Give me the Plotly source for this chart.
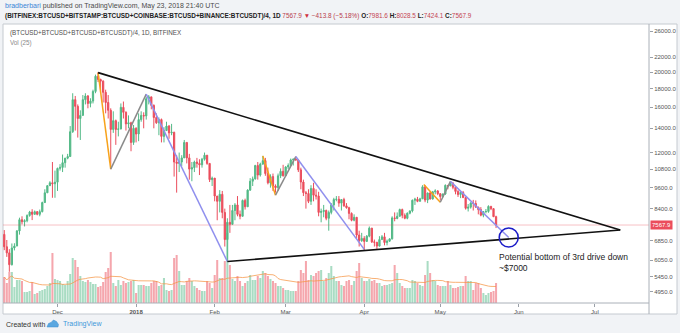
import math
import pandas as pd
import plotly.graph_objects as go

# ---- daily OHLC, (BTCUSD+BTCUSD+BTCUSD+BTCUSDT)/4, Nov 10 2017 .. May 23 2018 ----
dates = pd.date_range("2017-11-10", "2018-05-23", freq="D")

opens = [
    7130, 6590, 6340, 5880, 6540, 6620, 7290, 7830, 7730, 7780, 8040, 8220, 8100, 8240, 8100, 8240, 8730, 9290, 9720, 9900, 9840,
    9940, 10850, 10920, 11250, 11580, 11700, 13700, 16800, 16100, 14900, 15200, 16800, 17200, 16400, 16650, 17700, 19500, 19100, 18900, 17600, 16500, 15700, 13900, 14700, 13900, 13950, 16000, 15500, 14400, 14500, 12800,
    14000, 13500, 14800, 15200, 15150, 16900, 17100, 16200, 15000, 14500, 14800, 13300, 13800, 14200, 13600, 13650, 11300, 11200, 11300, 11600, 12800, 11600, 10800, 10900, 11300, 11200, 11100, 11500, 11800, 11200, 10100,
    10200, 9100, 8800, 9200, 8200, 6900, 7700, 7600, 8300, 8600, 8100, 8000, 8850, 8500, 9450, 10000, 10150, 11050, 10400, 11150, 11400, 10500, 9900, 10300, 9700, 9600, 10350, 10650,
    10350, 10950, 11050, 11450, 11500, 11450, 10750, 9950, 9300, 9250, 8800, 9550, 9150, 9100, 8200, 8250, 8300, 7900, 8200, 8600, 8900, 8920, 8700, 8900, 8550, 8450, 8150, 7800, 7950, 7100, 6850,
    6950, 6820, 7050, 7420, 6800, 6780, 6620, 6900, 7020, 6770, 6830, 6930, 7920, 7890, 8000, 8350, 8050, 7900, 8160, 8280, 8860, 8920, 8800, 8940, 9650, 8870, 9280, 8930, 9350, 9400,
    9240, 9070, 9220, 9740, 9700, 9860, 9620, 9370, 9190, 9310, 9010, 8420, 8480, 8700, 8680, 8480, 8350, 8060, 8240, 8250, 8520, 8400, 7981.6,
]
highs = [
    7330, 6880, 6490, 6730, 6740, 7330, 7930, 8000, 7850, 8100, 8280, 8370, 8300, 8270, 8350, 8780, 9500, 9750, 10000, 11300, 10700,
    10900, 11150, 11850, 11600, 11900, 14200, 17500, 17200, 16300, 15700, 17300, 17500, 17300, 16950, 17900, 19700, 20000, 19200, 19000, 17900, 17300, 15900, 15600, 14800, 14600, 16400, 16600, 15600, 15200, 14600, 14300,
    14100, 15400, 15600, 15500, 17100, 17300, 17100, 16300, 15400, 15000, 14900, 14100, 14600, 14300, 14400, 13700, 11800, 12000, 11800, 13000, 12800, 11900, 11300, 11400, 11600, 11500, 11600, 12000, 11800, 11200, 10300,
    10200, 9100, 9450, 9400, 8400, 7900, 8600, 8600, 8700, 9100, 8300, 8900, 8950, 9500, 10200, 10300, 11100, 11300, 11250, 11750, 11600, 10900, 10450, 10500, 9800, 10500, 10850, 11100,
    11000, 11200, 11550, 11550, 11700, 11450, 10900, 10100, 9400, 9500, 9750, 9900, 9500, 9350, 8400, 8600, 8350, 8300, 8700, 9000, 9100, 9100, 8900, 9000, 8700, 8500, 8200, 8100, 7950, 7300, 7200,
    7050, 7100, 7500, 7430, 6900, 6800, 7050, 7100, 7200, 6900, 6950, 8000, 8200, 8200, 8400, 8400, 8150, 8200, 8300, 8900, 9000, 9050, 9000, 9750, 9750, 9300, 9380, 9400, 9500, 9450,
    9250, 9250, 9800, 9750, 9990, 9950, 9650, 9450, 9350, 9400, 9020, 8650, 8750, 8880, 8850, 8500, 8480, 8260, 8380, 8580, 8550, 8420, 8028.5,
]
lows = [
    6450, 6180, 5620, 5850, 6440, 6620, 7120, 7600, 7500, 7700, 7980, 7810, 8090, 8050, 8000, 8200, 8720, 9290, 9700, 9000, 9000,
    9400, 10700, 10600, 10900, 11500, 11700, 13600, 13800, 13200, 13000, 15200, 16300, 15900, 16000, 16400, 17500, 18800, 17800, 16500, 15400, 14900, 10800, 13600, 12600, 13300, 13900, 14900, 13800, 14000, 12100, 12600,
    12800, 12900, 14600, 14000, 14800, 16300, 15800, 14000, 14400, 13400, 12800, 12800, 13800, 13100, 13400, 10300, 9300, 10600, 11000, 11600, 11200, 10100, 10000, 10600, 10900, 10400, 10900, 11400, 11100, 9950, 9700,
    8800, 7800, 8200, 7900, 6600, 6000, 7200, 7600, 7800, 8000, 7850, 8000, 8350, 8500, 9400, 9700, 10100, 10100, 10300, 11100, 10350, 9800, 9600, 9400, 9300, 9400, 10200, 10300,
    10350, 10800, 11000, 11050, 11400, 10600, 9500, 9100, 8400, 8700, 8600, 8800, 8900, 8000, 7700, 7950, 7800, 7300, 8100, 8300, 8800, 8500, 8300, 8500, 8400, 7850, 7750, 7750, 6950, 6600, 6800,
    6450, 6800, 7000, 6750, 6600, 6500, 6600, 6900, 6650, 6650, 6800, 6900, 7750, 7850, 8000, 7900, 7850, 7850, 8100, 8200, 8600, 8750, 8800, 8930, 8750, 8700, 8900, 8900, 9200, 9150,
    8850, 9020, 9170, 9500, 9700, 9500, 9200, 9050, 8980, 9000, 8350, 8250, 8400, 8300, 8450, 8100, 8000, 7950, 8150, 8180, 8320, 7960, 7424.1,
]
closes = [
    6590, 6340, 5880, 6540, 6620, 7290, 7830, 7730, 7780, 8040, 8220, 8100, 8240, 8100, 8240, 8730, 9290, 9720, 9900, 9840, 9940,
    10850, 10920, 11250, 11580, 11700, 13700, 16800, 16100, 14900, 15200, 16800, 17200, 16400, 16650, 17700, 19500, 19100, 18900, 17600, 16500, 15700, 13900, 14700, 13900, 13950, 16000, 15500, 14400, 14500, 12800, 14000,
    13500, 14800, 15200, 15150, 16900, 17100, 16200, 15000, 14500, 14800, 13300, 13800, 14200, 13600, 13650, 11300, 11200, 11300, 11600, 12800, 11600, 10800, 10900, 11300, 11200, 11100, 11500, 11800, 11200, 10100, 10200,
    9100, 8800, 9200, 8200, 6900, 7700, 7600, 8300, 8600, 8100, 8000, 8850, 8500, 9450, 10000, 10150, 11050, 10400, 11150, 11400, 10500, 9900, 10300, 9700, 9600, 10350, 10650, 10350,
    10950, 11050, 11450, 11500, 11450, 10750, 9950, 9300, 9250, 8800, 9550, 9150, 9100, 8200, 8250, 8300, 7900, 8200, 8600, 8900, 8920, 8700, 8900, 8550, 8450, 8150, 7800, 7950, 7100, 6850, 6950,
    6820, 7050, 7420, 6800, 6780, 6620, 6900, 7020, 6770, 6830, 6930, 7920, 7890, 8000, 8350, 8050, 7900, 8160, 8280, 8860, 8920, 8800, 8940, 9650, 8870, 9280, 8930, 9350, 9400, 9240,
    9070, 9220, 9740, 9700, 9860, 9620, 9370, 9190, 9310, 9010, 8420, 8480, 8700, 8680, 8480, 8350, 8060, 8240, 8250, 8520, 8400, 7981.7, 7567.9,
]
# daily volume (thousand coins)
volumes = [
    26, 20, 31, 31, 16, 23, 23, 22, 11, 11,
    12, 21, 9, 10, 12, 13, 14, 17, 20, 50,
    24, 23, 22, 19, 18, 22, 29, 45, 43, 36,
    27, 22, 21, 23, 21, 19, 19, 16, 17, 21,
    31, 35, 51, 20, 17, 23, 18, 22, 20, 21,
    22, 23, 10, 18, 18, 18, 17, 17, 20, 22,
    22, 17, 18, 25, 13, 12, 13, 45, 48, 32,
    18, 18, 22, 25, 22, 17, 15, 13, 12, 12,
    22, 20, 15, 28, 43, 25, 25, 42, 70, 38,
    24, 22, 27, 22, 17, 20, 22, 28, 23, 23,
    27, 25, 32, 30, 27, 24, 22, 20, 17, 17,
    15, 13, 13, 12, 12, 12, 22, 33, 30, 42,
    23, 28, 27, 30, 32, 33, 22, 25, 30, 37,
    27, 22, 22, 18, 17, 22, 23, 18, 22, 32,
    40, 25, 22, 22, 24, 22, 23, 20, 20, 17,
    18, 18, 19, 20, 38, 30, 20, 17, 15, 15,
    15, 23, 22, 20, 18, 17, 28, 42, 30, 23,
    22, 18, 17, 17, 17, 22, 18, 15, 15, 16,
    17, 17, 27, 22, 22, 13, 20, 20, 15, 10,
    8, 10, 11, 12, 20,
]

last_price = 7567.9

# trend lines: (date, price) pairs
triangle_top = [("2017-12-17", 19950), ("2018-07-11", 7330)]
triangle_bottom = [("2018-02-06", 6000), ("2018-07-11", 7330)]
drive_legs = {
    "orange": [[("2017-12-17", 19950), ("2017-12-22", 10800)],
               [("2018-02-20", 11750), ("2018-02-25", 9150)],
               [("2018-04-24 12:00", 9800), ("2018-05-01", 8750)]],
    "gray":   [[("2017-12-22", 10800), ("2018-01-05", 17400)],
               [("2018-02-25", 9150), ("2018-03-05", 11700)],
               [("2018-05-01", 8750), ("2018-05-05", 9990)]],
    "blue":   [[("2018-01-05", 17400), ("2018-02-06", 6000)],
               [("2018-03-05", 11700), ("2018-04-01", 6480)],
               [("2018-05-05", 9990), ("2018-05-28", 6990)]],
}
target = ("2018-05-28", 6990)

price_ticks = [26000, 22000, 20000, 18000, 16000, 14000, 12000, 10800, 9600, 8400, 6850, 6050, 5450, 4950]
month_ticks = ["2017-12-01", "2018-01-01", "2018-02-01", "2018-03-01", "2018-04-01",
               "2018-05-01", "2018-06-01", "2018-07-01"]
month_labels = ["Dec", "<b>2018</b>", "Feb", "Mar", "Apr", "May", "Jun", "Jul"]

# ---- page geometry (pixels) ----
W, H = 680, 333
ML, MR, MT, MB = 3, 31, 24, 30
PW, PH = W - ML - MR, H - MT - MB


def fx(px):
    return (px - ML) / PW


def fy(py):
    return (H - MB - py) / PH


UP, DOWN = "#53b987", "#eb4d5c"
FONT = "Liberation Sans, Arial, sans-serif"

fig = go.Figure()

# volume (behind the price series)
vol_colors = ["rgba(83,185,135,0.5)" if c >= o else "rgba(235,77,92,0.5)" for o, c in zip(opens, closes)]
fig.add_trace(go.Bar(x=dates, y=volumes, marker=dict(color=vol_colors, line=dict(width=0)),
                     yaxis="y", hoverinfo="skip"))
vol_ma = pd.Series(volumes, dtype=float).rolling(20, min_periods=1).mean()
fig.add_trace(go.Scatter(x=dates, y=vol_ma, mode="lines", yaxis="y",
                         line=dict(color="rgba(245,150,70,0.75)", width=1), hoverinfo="skip"))

# last price line
x_range = ["2017-11-09 12:00", "2018-07-22 08:00"]
fig.add_trace(go.Scatter(x=x_range, y=[last_price, last_price], mode="lines", yaxis="y2",
                         line=dict(color="rgba(235,77,92,0.35)", width=1), hoverinfo="skip"))

fig.add_trace(go.Candlestick(
    x=dates, open=opens, high=highs, low=lows, close=closes, yaxis="y2",
    increasing=dict(line=dict(color=UP, width=1), fillcolor=UP),
    decreasing=dict(line=dict(color=DOWN, width=1), fillcolor=DOWN),
    whiskerwidth=0, hoverinfo="skip"))


def seg(points, color, width):
    fig.add_trace(go.Scatter(x=[p[0] for p in points], y=[p[1] for p in points], mode="lines",
                             yaxis="y2", line=dict(color=color, width=width), hoverinfo="skip"))


leg_colors = {"orange": "#f7a21b", "gray": "#8a8a8a", "blue": "#9090ee"}
for name, legs in drive_legs.items():
    for leg in legs:
        seg(leg, leg_colors[name], 1.5)
seg(triangle_top, "#111111", 1.6)
seg(triangle_bottom, "#111111", 1.6)

fig.add_trace(go.Scatter(x=[target[0]], y=[target[1]], mode="markers", yaxis="y2",
                         marker=dict(symbol="circle-open", size=19, color="#1d1dc8",
                                     line=dict(color="#1d1dc8", width=1.6)),
                         hoverinfo="skip"))

shapes = [
    # chart frame
    dict(type="rect", xref="paper", yref="paper", x0=fx(3), x1=fx(677), y0=fy(314), y1=fy(24),
         line=dict(color="#c5cad0", width=1), fillcolor="white", layer="below"),
    # price scale separator
    dict(type="line", xref="paper", yref="paper", x0=1, x1=1, y0=fy(314), y1=1,
         line=dict(color="#aab0b8", width=1)),
    # time scale separator
    dict(type="line", xref="paper", yref="paper", x0=0, x1=1, y0=0, y1=0,
         line=dict(color="#aab0b8", width=1)),
]

# small logo mark
logo = [(47, 327), (48.5, 323.5), (51, 322.5), (53.5, 320), (56.5, 321.5), (58.5, 324.5), (58, 327)]
path = "M " + " L ".join(f"{fx(a):.5f},{fy(b):.5f}" for a, b in logo) + " Z"
shapes.append(dict(type="path", xref="paper", yref="paper", path=path,
                   fillcolor="#5aa7e0", line=dict(color="#3d8fd0", width=0.5)))

annotations = [
    dict(x=fx(3), y=fy(6), xref="paper", yref="paper", xanchor="left", yanchor="middle", showarrow=False,
         text="<span style='color:#3b86d6'>bradberbari</span> published on TradingView.com, May 23, 2018 21:40 UTC",
         font=dict(family=FONT, size=7, color="#4a4a4a")),
    dict(x=fx(3), y=fy(15.5), xref="paper", yref="paper", xanchor="left", yanchor="middle", showarrow=False,
         text="<b>(BITFINEX:BTCUSD+BITSTAMP:BTCUSD+COINBASE:BTCUSD+BINANCE:BTCUSDT)/4, 1D</b> "
              "<span style='color:#b8404c'>7567.9 </span><span style='color:#d0313e'>▼</span>"
              "<span style='color:#b8404c'> −413.8 (−5.18%)</span> "
              "<b>O:</b><span style='color:#c44452'>7981.6</span> <b>H:</b><span style='color:#c44452'>8028.5</span> "
              "<b>L:</b><span style='color:#c44452'>7424.1</span> <b>C:</b><span style='color:#c44452'>7567.9</span>",
         font=dict(family=FONT, size=6.4, color="#222222")),
    dict(x=fx(8), y=fy(33), xref="paper", yref="paper", xanchor="left", yanchor="middle", showarrow=False,
         text="(BTCUSD+BTCUSD+BTCUSD+BTCUSDT)/4, 1D, BITFINEX",
         font=dict(family=FONT, size=6.3, color="#505050")),
    dict(x=fx(8), y=fy(42.5), xref="paper", yref="paper", xanchor="left", yanchor="middle", showarrow=False,
         text="Vol (25)", font=dict(family=FONT, size=6.3, color="#8a8a8a")),
    dict(x=fx(497), y=fy(262), xref="paper", yref="paper", xanchor="left", yanchor="middle", showarrow=False,
         align="left", text="Potential bottom of 3rd drive down<br>~$7000",
         font=dict(family=FONT, size=8.5, color="#222222")),
    dict(x=1, y=math.log10(last_price), xref="paper", yref="y2", xanchor="left", yanchor="middle",
         xshift=1, showarrow=False, text="7567.9", bgcolor=DOWN, borderpad=1,
         font=dict(family=FONT, size=6, color="white")),
    dict(x=fx(3.5), y=fy(324), xref="paper", yref="paper", xanchor="left", yanchor="middle", showarrow=False,
         text="Created with", font=dict(family=FONT, size=7, color="#333333")),
    dict(x=fx(61), y=fy(324), xref="paper", yref="paper", xanchor="left", yanchor="middle", showarrow=False,
         text="TradingView", font=dict(family=FONT, size=7, color="#3f98da")),
]

log_top = 4.41497 + (31 - MT) / 362
log_bot = 4.41497 - (H - MB - 31) / 362

fig.update_layout(
    width=W, height=H,
    margin=dict(l=ML, r=MR, t=MT, b=MB),
    paper_bgcolor="#f1f3f6", plot_bgcolor="white",
    showlegend=False, bargap=0.2,
    xaxis=dict(type="date", range=x_range, rangeslider=dict(visible=False),
               tickvals=month_ticks, ticktext=month_labels, showgrid=False, zeroline=False,
               ticks="outside", ticklen=3, tickcolor="#9aa0a8",
               tickfont=dict(family=FONT, size=6, color="#555555")),
    yaxis=dict(range=[0, PH], visible=False, fixedrange=True),
    yaxis2=dict(type="log", overlaying="y", side="right", anchor="x",
                range=[log_bot, log_top], tickvals=price_ticks,
                ticktext=[f"{v:.1f}" for v in price_ticks], showgrid=False, zeroline=False,
                ticks="outside", ticklen=3, tickcolor="#9aa0a8",
                tickfont=dict(family=FONT, size=6, color="#555555")),
    shapes=shapes, annotations=annotations,
)

fig.write_html("out.html")
